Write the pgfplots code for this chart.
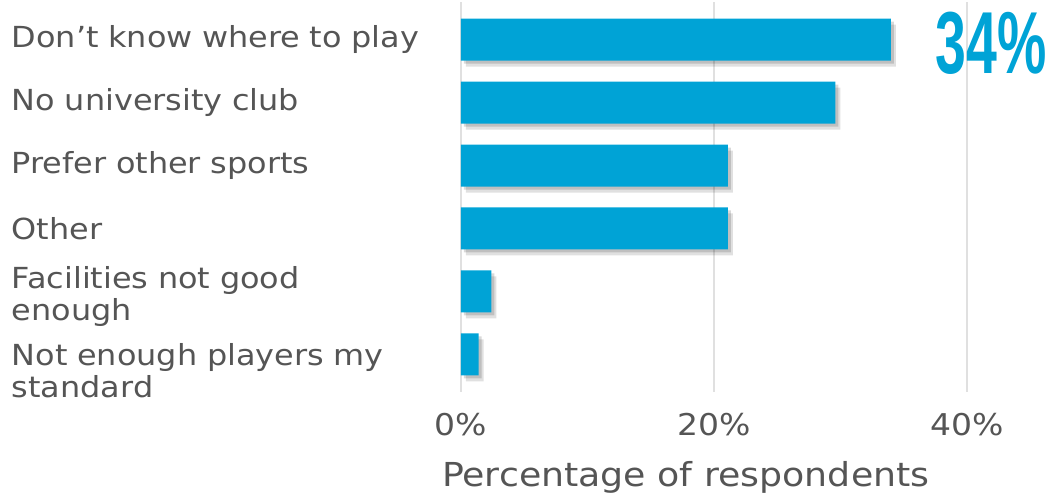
\documentclass[border=0pt]{standalone}
\usepackage{pgfplots}
\usepackage{pgfplotstable}
\pgfplotsset{compat=1.18}
\usepackage{fontspec}
\setmainfont[FakeStretch=1.1]{DejaVu Sans}
\newfontfamily\bigfont[FakeStretch=0.63]{Liberation Sans}
\definecolor{barblue}{HTML}{00A3D6}
\definecolor{txt}{HTML}{555555}
\definecolor{gridc}{HTML}{E0E0E0}

\pgfplotstableread{
y v
0 34.0
1 29.6
2 21.1
3 21.1
4 2.4
5 1.4
}\data

\begin{document}
\begin{tikzpicture}
\useasboundingbox (-461pt,-102pt) rectangle (592pt,392pt);
\begin{axis}[
  scale only axis, width=569pt, height=390pt,
  xbar, bar width=42pt, bar shift=0pt, clip=false,
  xmin=0, xmax=45, ymin=-0.6, ymax=5.6, y dir=reverse,
  ytick={0,...,5},
  yticklabels={{Don’t know where to play},{No university club},{Prefer other sports},{Other},
    {\raisebox{-13pt}[0pt][0pt]{\begin{tabular}{@{}l@{}}Facilities not good\\enough\end{tabular}}},
    {\raisebox{-27pt}[0pt][0pt]{\begin{tabular}{@{}l@{}}Not enough players my\\standard\end{tabular}}}},
  xtick={0,20,40},
  xticklabel={\pgfmathprintnumber{\tick}\%},
  /pgf/number format/assume math mode=true,
  axis line style={draw=none},
  major tick length=0pt,
  xmajorgrids, grid style={line width=2pt, color=gridc},
  yticklabel style={text width=430pt, align=left, anchor=east, xshift=-19pt,
    font=\fontsize{29}{32}\selectfont, text=txt, inner sep=0pt},
  xticklabel style={anchor=center, yshift=-33pt, font=\fontsize{30}{32}\selectfont, text=txt},
  xlabel={Percentage of respondents},
  xlabel style={at={(rel axis cs:0.395,0)}, anchor=center, yshift=-85pt,
    font=\fontsize{33}{34}\selectfont, text=txt},
]
\addplot[fill=black, opacity=0.12, draw=none, xshift=5pt, yshift=-6pt] table[x=v, y=y] {\data};
\addplot[fill=black, opacity=0.15, draw=none, xshift=3pt, yshift=-3pt] table[x=v, y=y] {\data};
\addplot[fill=barblue, draw=none] table[x=v, y=y] {\data};
\node[anchor=west, inner sep=0pt, text=barblue, font=\bigfont\bfseries\fontsize{88}{88}\selectfont] at (axis cs:37.5,0.05) {34\%};
\end{axis}
\end{tikzpicture}
\end{document}
